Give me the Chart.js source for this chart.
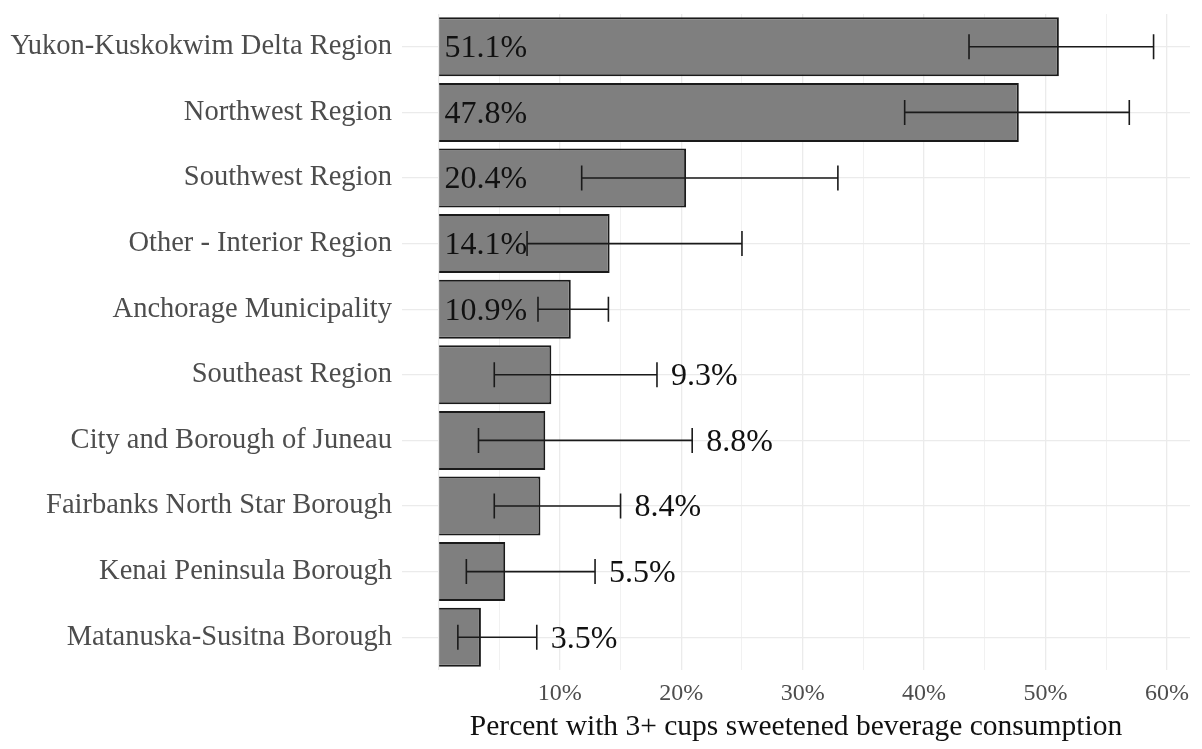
<!DOCTYPE html>
<html lang="en">

<head>
  <meta charset="UTF-8" />
  <title>Sweetened beverage consumption by region</title>
  <script src="https://cdn.jsdelivr.net/npm/chart.js"></script>
  <style>
    body,
    html {
      margin: 0;
      height: 100%;
      background: #ffffff;
      overflow: hidden;
    }

    .wrap {
      width: 1202px;
      height: 749px;
    }
  </style>
</head>

<body>
  <div class="wrap">
    <canvas id="grafico"></canvas>
  </div>

  <script>
    const regions = [
      'Yukon-Kuskokwim Delta Region',
      'Northwest Region',
      'Southwest Region',
      'Other - Interior Region',
      'Anchorage Municipality',
      'Southeast Region',
      'City and Borough of Juneau',
      'Fairbanks North Star Borough',
      'Kenai Peninsula Borough',
      'Matanuska-Susitna Borough'
    ];
    const percent = [51.1, 47.8, 20.4, 14.1, 10.9, 9.3, 8.8, 8.4, 5.5, 3.5];
    const lower = [43.7, 38.4, 11.8, 7.3, 8.2, 4.6, 3.3, 4.6, 2.3, 1.6];
    const upper = [58.9, 56.9, 32.9, 25.0, 14.0, 18.0, 20.9, 15.0, 12.9, 8.1];
    const xTicks = [0, 5, 10, 15, 20, 25, 30, 35, 40, 45, 50, 55, 60];

    const serif = '"Liberation Serif", "Times New Roman", serif';

    // error bars and value labels on top of the bars
    const errorBars = {
      id: 'errorBars',
      afterDatasetsDraw(chart) {
        const ctx = chart.ctx;
        const x = chart.scales.x;
        const meta = chart.getDatasetMeta(0);
        ctx.save();
        ctx.strokeStyle = '#1a1a1a';
        ctx.lineWidth = 1.6;
        meta.data.forEach((bar, i) => {
          const y = bar.y;
          const x0 = x.getPixelForValue(lower[i]);
          const x1 = x.getPixelForValue(upper[i]);
          const cap = 12.5;
          ctx.beginPath();
          ctx.moveTo(x0, y);
          ctx.lineTo(x1, y);
          ctx.moveTo(x0, y - cap);
          ctx.lineTo(x0, y + cap);
          ctx.moveTo(x1, y - cap);
          ctx.lineTo(x1, y + cap);
          ctx.stroke();
        });
        ctx.fillStyle = '#111111';
        ctx.font = '32px ' + serif;
        ctx.textBaseline = 'middle';
        ctx.textAlign = 'left';
        meta.data.forEach((bar, i) => {
          const txt = percent[i].toFixed(1) + '%';
          const tx = percent[i] > 10
            ? x.getPixelForValue(0) + 6
            : x.getPixelForValue(upper[i]) + 14;
          ctx.fillText(txt, tx, bar.y + 2);
        });
        ctx.restore();
      }
    };

    new Chart(document.getElementById('grafico'), {
      type: 'bar',
      data: {
        labels: regions,
        datasets: [{
          data: percent,
          backgroundColor: '#7f7f7f',
          borderColor: '#1a1a1a',
          borderWidth: 2,
          categoryPercentage: 0.9,
          barPercentage: 1
        }]
      },
      options: {
        indexAxis: 'y',
        responsive: true,
        maintainAspectRatio: false,
        animation: false,
        layout: {
          padding: { top: 14, right: 12, left: 0, bottom: 0 }
        },
        plugins: {
          legend: { display: false },
          tooltip: { enabled: false }
        },
        scales: {
          x: {
            type: 'linear',
            min: -3,
            max: 61.9,
            border: { display: false },
            afterBuildTicks: (scale) => {
              scale.ticks = xTicks.map(v => ({ value: v }));
            },
            afterFit: (scale) => {
              scale.height = 79;
              scale.paddingLeft = 0;
              scale.paddingRight = 0;
            },
            grid: {
              color: '#ebebeb',
              lineWidth: (c) => (c.tick && c.tick.value % 10 === 0 ? 1.3 : 0.7),
              drawTicks: false
            },
            ticks: {
              padding: 9,
              color: '#4d4d4d',
              font: { family: serif, size: 24 },
              autoSkip: false,
              maxRotation: 0,
              callback: (v) => (v > 0 && v % 10 === 0 ? v + '%' : '')
            },
            title: {
              display: true,
              text: 'Percent with 3+ cups sweetened beverage consumption',
              color: '#111111',
              font: { family: serif, size: 29.5 },
              padding: { top: 0, bottom: 4 }
            }
          },
          y: {
            border: { display: false },
            afterFit: (scale) => {
              scale.width = 402;
              scale.paddingTop = 0;
              scale.paddingBottom = 0;
            },
            grid: {
              color: '#ebebeb',
              lineWidth: 1.3,
              offset: false,
              drawTicks: false
            },
            ticks: {
              padding: 10,
              color: '#4d4d4d',
              font: { family: serif, size: 28.5 },
              autoSkip: false
            }
          }
        }
      },
      plugins: [errorBars]
    });
  </script>
</body>

</html>
